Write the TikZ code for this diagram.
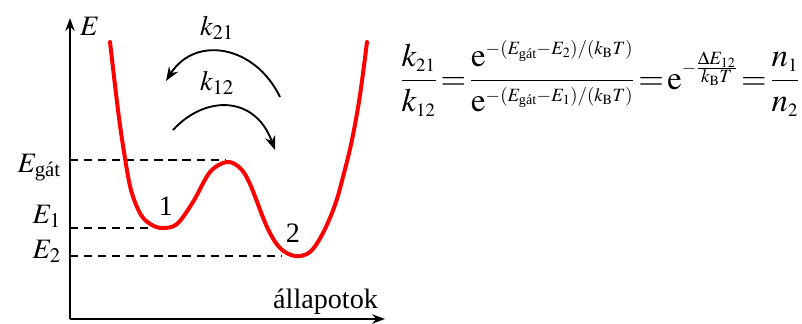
\documentclass[tikz,border=0pt]{standalone}
\usepackage{amsmath}
\usepackage{mathptmx}
\usepackage{fontspec}
\setmainfont{Liberation Serif}
\usetikzlibrary{arrows.meta}
\DeclareMathSizes{28}{28}{16}{12}
\tikzset{
  lbl/.style={font=\fontsize{24}{28}\selectfont, inner sep=0pt},
  eqn/.style={font=\fontsize{28}{32}\selectfont, inner sep=0pt},
  axis/.style={line width=1.6pt, -{Stealth[length=11pt,width=8pt]}},
  level/.style={line width=1.4pt, dash pattern=on 7pt off 5pt},
  pot/.style={line width=3.4pt, red, line join=round, line cap=round},
  rate/.style={line width=1.6pt, -{Stealth[length=12pt,width=9pt]}},
}
\begin{document}
\begin{tikzpicture}[x=0.03cm,y=-0.03cm]
\useasboundingbox (0,0) rectangle (802,323);
% axes
\coordinate (O) at (70,319);
\coordinate (ytop) at (70,18);
\coordinate (xend) at (385,319);
\draw[axis] (O) -- (ytop);
\draw[axis] (O) -- (xend);
\node[lbl, anchor=base west] (Elab) at (80,35) {$E$};
\node[lbl, anchor=base west] (xlab) at (273,308) {állapotok};
% levels
\coordinate (g0) at (70,160); \coordinate (g1) at (225,160);
\coordinate (a0) at (70,228); \coordinate (a1) at (150,228);
\coordinate (b0) at (70,256); \coordinate (b1) at (282,256);
\draw[level] (g0) -- (g1);
\draw[level] (a0) -- (a1);
\draw[level] (b0) -- (b1);
\node[lbl, anchor=base east] (Eg) at (61,172) {$E_\text{gát}$};
\node[lbl, anchor=base east] (E1) at (61,223) {$E_1$};
\node[lbl, anchor=base east] (E2) at (61,258) {$E_2$};
% potential curve
\draw[pot] plot[smooth, tension=0.55] coordinates {
 (110,42) (118,110) (124,152) (131,190) (141,215) (152,225) (163,228)
 (177,224) (193,202) (210,172) (227,162) (240,168) (250,184) (267,227)
 (280,248) (295,256) (310,252) (323,233) (335,205) (343,177) (352,140)
 (360,95) (367,42)};
\node[lbl, anchor=base] (m1) at (166,215) {1};
\node[lbl, anchor=base] (m2) at (293,242) {2};
% rate arrows
\coordinate (r21s) at (280,97);
\coordinate (r21e) at (166,81);
\coordinate (r12s) at (173,130);
\coordinate (r12e) at (275,150);
\draw[rate] (r21s) .. controls (255,45) and (195,35) .. (r21e);
\draw[rate] (r12s) .. controls (205,95) and (255,95) .. (r12e);
\node[lbl, anchor=base] (k21) at (217,35) {$k_{21}$};
\node[lbl, anchor=base] (k12) at (217,90) {$k_{12}$};
% equation
\node[eqn, anchor=base west] (eq) at (400,89) {$\thickmuskip=2mu\displaystyle
 \frac{k_{21}}{k_{12}}=\frac{\mathrm{e}^{-(E_\text{gát}-E_2)/(k_\mathrm{B}T)}}{\mathrm{e}^{-(E_\text{gát}-E_1)/(k_\mathrm{B}T)}}
 =\mathrm{e}^{-\frac{\scriptstyle\Delta E_{12}}{\scriptstyle k_\mathrm{B}T}}=\frac{n_1}{n_2}$};
\end{tikzpicture}
\end{document}
